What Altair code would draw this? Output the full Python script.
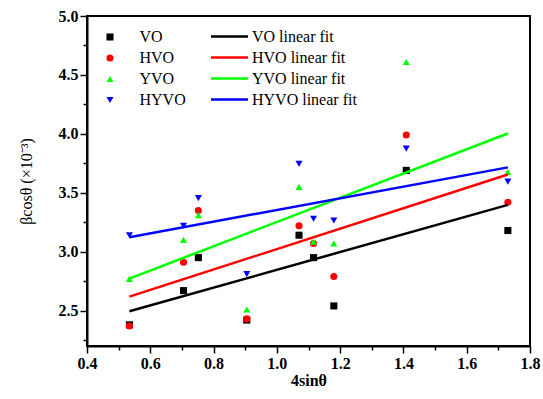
import altair as alt
import pandas as pd

x_vals = [0.534, 0.705, 0.752, 0.905, 1.070, 1.116, 1.180, 1.409, 1.730]
vo = [2.38, 2.67, 2.95, 2.42, 3.14, 2.95, 2.54, 3.69, 3.18]
hvo = [2.37, 2.91, 3.35, 2.43, 3.22, 3.07, 2.79, 3.99, 3.42]
yvo = [2.77, 3.10, 3.31, 2.51, 3.55, 3.085, 3.07, 4.61, 3.675]
hyvo = [3.14, 3.22, 3.455, 2.81, 3.745, 3.28, 3.265, 3.875, 3.595]

series_names = ["VO", "HVO", "YVO", "HYVO"]
colors = ["#000000", "#FF0000", "#00FF00", "#0000FF"]
shapes = ["square", "circle", "triangle-up", "triangle-down"]
marker_sizes = [50, 50, 80, 80]
fit_names = [s + " linear fit" for s in series_names]

x_ticks = [round(0.4 + 0.1 * i, 2) for i in range(15)]
y_ticks = [round(2.25 + 0.25 * i, 2) for i in range(12)]

rows = []
for name, vals in zip(series_names, [vo, hvo, yvo, hyvo]):
    for xv, yv in zip(x_vals, vals):
        rows.append({"x": xv, "y": yv, "series": name})
df = pd.DataFrame(rows)

FONT = "Liberation Serif"

x_major = "abs(datum.value*5 - round(datum.value*5)) < 0.001"
y_major = "abs(datum.value*2 - round(datum.value*2)) < 0.001"

x_scale = alt.Scale(domain=[0.4, 1.8], nice=False, zero=False)
y_scale = alt.Scale(domain=[2.2, 5.0], nice=False, zero=False)

x_enc = alt.X(
    "x:Q",
    scale=x_scale,
    axis=alt.Axis(
        title="4sinθ",
        values=x_ticks,
        tickCount=50,
        labelExpr=f"{x_major} ? format(datum.value, '.1f') : ''",
        tickSize={"condition": {"test": x_major, "value": 7}, "value": 4},
        grid=False,
        labelOverlap=False,
        labelFlush=False,
    ),
)
y_enc = alt.Y(
    "y:Q",
    scale=y_scale,
    axis=alt.Axis(
        title="βcosθ (×10⁻³)",
        values=y_ticks,
        tickCount=50,
        labelExpr=f"{y_major} ? format(datum.value, '.1f') : ''",
        tickSize={"condition": {"test": y_major, "value": 7}, "value": 4},
        grid=False,
        labelOverlap=False,
        labelFlush=False,
        titleFontWeight="normal",
        titlePadding=24,
    ),
)

pt_legend = alt.Legend(
    title=None, orient="none", legendX=15, legendY=13, padding=0,
    labelFont=FONT, labelFontSize=16, labelOffset=21.5,
    rowPadding=5, symbolStrokeWidth=0,
)

points = alt.Chart(df).mark_point(filled=True, opacity=1).encode(
    x=x_enc,
    y=y_enc,
    color=alt.Color("series:N", scale=alt.Scale(domain=series_names, range=colors), legend=pt_legend),
    shape=alt.Shape("series:N", scale=alt.Scale(domain=series_names, range=shapes), legend=pt_legend),
    size=alt.Size("series:N", scale=alt.Scale(domain=series_names, range=marker_sizes), legend=pt_legend),
)

ln_legend = alt.Legend(
    title=None, orient="none", legendX=132, legendY=10, padding=0,
    labelFont=FONT, labelFontSize=16, labelOffset=12, symbolSize=342,
    symbolType="M-2,0H2", symbolStrokeWidth=2.5, rowPadding=2,
)

lines = alt.Chart(df).transform_regression(
    "x", "y", groupby=["series"]
).transform_calculate(
    fit="datum.series + ' linear fit'"
).mark_line(strokeWidth=2.5).encode(
    x="x:Q",
    y="y:Q",
    stroke=alt.Stroke("fit:N", scale=alt.Scale(domain=fit_names, range=colors), legend=ln_legend),
)

chart = alt.layer(points, lines).properties(
    width=443, height=330,
    background="white",
    autosize=alt.AutoSizeParams(type="none"),
    padding={"left": 87, "top": 16, "right": 13, "bottom": 53},
).configure_view(
    stroke="black", strokeWidth=2
).configure_axis(
    labelFont=FONT, labelFontSize=16, labelFontWeight="bold", labelColor="black",
    titleFont=FONT, titleFontSize=16, titleColor="black",
    domainColor="black", domainWidth=2, tickColor="black", tickWidth=1.5,
).configure_axisX(
    labelPadding=2, titlePadding=1, titleFontWeight="bold",
).configure_axisY(
    labelPadding=2,
)

chart.save("out.html", embed_options={"renderer": "svg", "actions": False})
